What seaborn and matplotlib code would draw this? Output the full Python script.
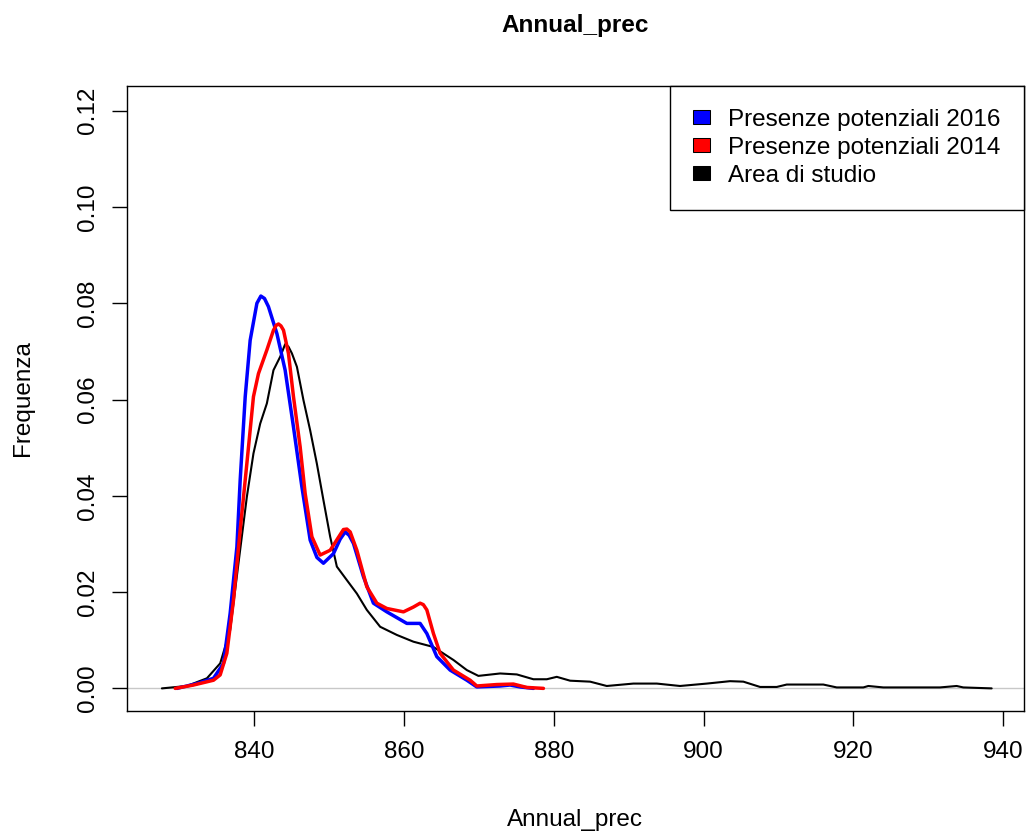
import matplotlib
matplotlib.use("Agg")
import matplotlib.pyplot as plt
from matplotlib.patches import Patch
import seaborn as sns

# ---------------- data ----------------
blue_x = [829.71, 832.38, 834.60, 835.93, 836.82, 837.72, 838.16, 838.83, 839.49, 840.39,
          840.92, 841.40, 841.93, 843.06, 844.16, 845.27, 846.39, 847.50, 848.40, 849.27,
          850.61, 851.50, 852.17, 852.70, 853.28, 854.61, 855.94, 857.73, 860.40, 862.17,
          863.07, 864.40, 866.18, 868.41, 869.74, 872.85, 874.18, 875.52, 877.29]
blue_y = [0.0000, 0.0010, 0.0021, 0.0052, 0.0156, 0.0294, 0.0433, 0.0606, 0.0723, 0.0800,
          0.0815, 0.0810, 0.0793, 0.0737, 0.0661, 0.0543, 0.0419, 0.0308, 0.0272, 0.0260,
          0.0280, 0.0310, 0.0325, 0.0318, 0.0301, 0.0232, 0.0177, 0.0159, 0.0135, 0.0135,
          0.0114, 0.0066, 0.0038, 0.0017, 0.0003, 0.0005, 0.0007, 0.0003, 0.0000]

red_x = [829.49, 831.93, 834.60, 835.49, 836.38, 837.26, 838.16, 839.05, 839.93, 840.60,
         841.72, 842.60, 842.95, 843.27, 843.60, 843.94, 844.60, 845.27, 846.16, 846.83,
         847.73, 848.83, 850.17, 851.94, 852.40, 852.84, 853.73, 855.06, 856.40, 857.73,
         859.95, 861.28, 862.17, 862.60, 863.07, 863.95, 864.84, 866.62, 868.85, 869.74,
         872.41, 874.62, 876.41, 878.63]
red_y = [0.0000, 0.0007, 0.0017, 0.0028, 0.0073, 0.0183, 0.0329, 0.0467, 0.0606, 0.0654,
         0.0703, 0.0744, 0.0754, 0.0757, 0.0753, 0.0744, 0.0696, 0.0606, 0.0502, 0.0405,
         0.0315, 0.0277, 0.0287, 0.0330, 0.0331, 0.0325, 0.0287, 0.0211, 0.0177, 0.0166,
         0.0159, 0.0169, 0.0177, 0.0174, 0.0163, 0.0114, 0.0073, 0.0038, 0.0017, 0.0005,
         0.0008, 0.0009, 0.0002, 0.0000]

area_x = [827.71, 831.05, 833.72, 835.49, 836.82, 837.93, 839.05, 839.93, 840.83, 841.72,
          842.60, 843.50, 844.16, 844.60, 845.06, 845.73, 846.60, 847.50, 848.39, 849.27,
          850.17, 851.06, 852.39, 853.73, 855.06, 856.84, 859.07, 861.28, 863.95, 866.62,
          868.41, 869.95, 872.85, 875.08, 877.29, 879.08, 880.41, 882.19, 884.86, 887.08,
          890.63, 893.76, 896.86, 900.43, 903.53, 905.31, 907.54, 909.77, 911.10, 915.98,
          917.77, 921.32, 921.99, 923.99, 931.55, 933.78, 934.66, 938.45]
area_y = [0.0000, 0.0005, 0.0021, 0.0052, 0.0121, 0.0260, 0.0398, 0.0488, 0.0550, 0.0592,
          0.0661, 0.0689, 0.0715, 0.0710, 0.0696, 0.0668, 0.0599, 0.0536, 0.0467, 0.0391,
          0.0315, 0.0253, 0.0225, 0.0197, 0.0163, 0.0128, 0.0111, 0.0097, 0.0086, 0.0059,
          0.0038, 0.0026, 0.0031, 0.0029, 0.0019, 0.0019, 0.0024, 0.0016, 0.0014, 0.0005,
          0.0010, 0.0010, 0.0005, 0.0010, 0.0015, 0.0014, 0.0003, 0.0003, 0.0008, 0.0008,
          0.0002, 0.0002, 0.0005, 0.0002, 0.0002, 0.0005, 0.0002, 0.0000]

legend_labels = ["Presenze potenziali 2016", "Presenze potenziali 2014", "Area di studio"]
legend_colors = ["#0000FF", "#FF0000", "#000000"]
x_ticks = [840, 860, 880, 900, 920, 940]
y_ticks = [0.00, 0.02, 0.04, 0.06, 0.08, 0.10, 0.12]
y_ticklabels = ["0.00", "0.02", "0.04", "0.06", "0.08", "0.10", "0.12"]

# ---------------- style ----------------
sns.set_theme(style="white")
plt.rcParams['font.family'] = ['Liberation Sans', 'DejaVu Sans']
FS = 17.5

fig = plt.figure(figsize=(10.27, 8.36), dpi=100)
ax = fig.add_axes([0.1240, 0.1495, 0.8726, 0.7480])

ax.axhline(0, color="#C8C8C8", lw=1.0, zorder=1)
line_kw = dict(sort=False, estimator=None, ax=ax,
               solid_joinstyle="round", solid_capstyle="round")
sns.lineplot(x=area_x, y=area_y, color="black", linewidth=1.5, zorder=2, **line_kw)
sns.lineplot(x=blue_x, y=blue_y, color="#0000FF", linewidth=2.5, zorder=3, **line_kw)
sns.lineplot(x=red_x, y=red_y, color="#FF0000", linewidth=2.5, zorder=4, **line_kw)

ax.set_xlim(823.1, 942.7)
ax.set_ylim(-0.0047, 0.1252)
ax.set_xticks(x_ticks)
ax.set_xticklabels([str(v) for v in x_ticks])
ax.set_yticks(y_ticks)
ax.set_yticklabels(y_ticklabels, rotation=90, va="center")

ax.tick_params(axis="both", which="major", direction="out", length=10.8, width=1.0,
               color="black", labelsize=FS, labelcolor="black", bottom=True, left=True)
ax.tick_params(axis="x", pad=11)
ax.tick_params(axis="y", pad=9.8)

for s in ax.spines.values():
    s.set_color("black")
    s.set_linewidth(1.0)
    s.set_visible(True)

ax.set_xlabel("Annual_prec", fontsize=FS, color="black", va="center")
ax.xaxis.set_label_coords(0.5, -0.1743)
ax.set_ylabel("Frequenza", fontsize=FS, color="black", va="center")
ax.yaxis.set_label_coords(-0.1164, 0.5)

ax.set_title("Annual_prec", fontsize=FS, fontweight="bold", color="black",
             y=1.0955, va="center", pad=0)

handles = [Patch(facecolor=c, edgecolor="black", linewidth=0.75) for c in legend_colors]
leg = ax.legend(handles, legend_labels, loc="upper right", bbox_to_anchor=(1, 1),
                borderaxespad=0, fontsize=FS, frameon=True, fancybox=False,
                framealpha=1, edgecolor="black", borderpad=0.95, handlelength=0.7,
                handleheight=0.5, handletextpad=0.75, labelspacing=0.25)
leg.get_frame().set_linewidth(1.0)
for t in leg.get_texts():
    t.set_color("black")

fig.savefig("out.png", dpi=100)
